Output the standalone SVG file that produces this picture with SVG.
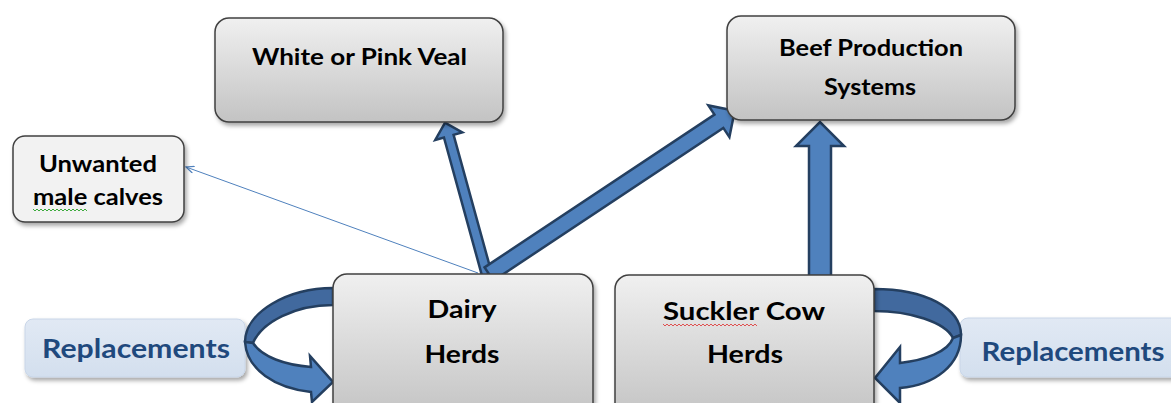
<svg xmlns="http://www.w3.org/2000/svg" width="1171" height="403" viewBox="0 0 1171 403">
<defs>
<linearGradient id="gBox" x1="0" y1="0" x2="0" y2="1">
<stop offset="0" stop-color="#f0f0f0"/>
<stop offset="1" stop-color="#c3c3c3"/>
</linearGradient>
<linearGradient id="gRep" x1="0" y1="0" x2="0" y2="1">
<stop offset="0" stop-color="#e1e9f4"/>
<stop offset="1" stop-color="#d3dfee"/>
</linearGradient>
<filter id="sh" x="-10%" y="-10%" width="130%" height="140%">
<feDropShadow dx="2" dy="3" stdDeviation="2" flood-color="#000" flood-opacity="0.35"/>
</filter>
<marker id="thinHead" markerWidth="10" markerHeight="8" refX="9" refY="4" orient="auto" markerUnits="userSpaceOnUse">
<path d="M1,0.5 L9,4 L1,7.5" fill="none" stroke="#4f81bd" stroke-width="1.2"/>
</marker>
</defs>
<style>
.box{fill:url(#gBox);stroke:#404040;stroke-width:1.5;filter:url(#sh)}
.plain{fill:#f2f2f2;stroke:#404040;stroke-width:1.5;filter:url(#sh)}
.rep{fill:url(#gRep);stroke:#c9d6e8;stroke-width:1;filter:url(#sh)}
.t{font-family:Lato,"Liberation Sans",sans-serif;font-weight:bold;fill:#000;text-anchor:middle}
.rt{font-family:Lato,"Liberation Sans",sans-serif;font-weight:bold;fill:#1f497d;text-anchor:middle;font-size:27px}
.arr{fill:#4f81bd;stroke:#243f60;stroke-width:2.5;stroke-linejoin:miter}
.arrD{fill:#41699e;stroke:#243f60;stroke-width:2.5;stroke-linejoin:round}
.thin{stroke:#4f81bd;stroke-width:1;fill:none}
.wg{fill:none;stroke:#3caa3c;stroke-width:1}
.wr{fill:none;stroke:#e05050;stroke-width:1}
</style>

<g id="replacements-left">
<rect class="rep" x="25" y="319" width="220" height="58" rx="8"/>
<text class="rt" x="136" y="358" textLength="188" lengthAdjust="spacingAndGlyphs">Replacements</text>
</g>
<g id="replacements-right">
<rect class="rep" x="960" y="318" width="230" height="59" rx="8"/>
<text class="rt" x="1073" y="361" textLength="183" lengthAdjust="spacingAndGlyphs">Replacements</text>
</g>

<g id="connectors">
<line class="thin" x1="478" y1="273" x2="186" y2="167" marker-end="url(#thinHead)"/>
<path class="arr" transform="translate(487,275) rotate(-15.4)" d="M-5,0 L-5,-144 L-14,-144 L0,-158 L14,-144 L5,-144 L5,0 Z"/>
<path class="arr" transform="translate(489,274) rotate(56.4)" d="M-8,0 L-8,-276 L-19,-276 L0,-295 L19,-276 L8,-276 L8,0 Z"/>
<path class="arr" d="M809,276 L809,146 L796,146 L820,122 L844,146 L831,146 L831,276 Z"/>
<path class="arrD" d="M333,288 C288,288 245,312 245,342 L253,343 C262,322 295,305 333,305 Z"/>
<path class="arr" d="M245,342 C247,370 275,388 311,392 L312,402 L333,382 L310,356 L311,367 C285,365 262,357 253,343 Z"/>
<path class="arrD" d="M874,289 C925,289 961,308 961,335 L953,338 C945,322 910,311 874,311 Z"/>
<path class="arr" d="M961,335 C961,365 935,385 900,388 L900,403 L875,378 L900,347 L900,363 C925,360 948,352 953,338 Z"/>
</g>

<g id="veal">
<rect class="box" x="215" y="18" width="288" height="104" rx="14"/>
<text class="t" x="359.5" y="65" font-size="23.5" textLength="215" lengthAdjust="spacingAndGlyphs">White or Pink Veal</text>
</g>
<g id="beef">
<rect class="box" x="727" y="16" width="288" height="104" rx="14"/>
<text class="t" x="871" y="56" font-size="22" textLength="184" lengthAdjust="spacingAndGlyphs">Beef Production</text>
<text class="t" x="870" y="95" font-size="22" textLength="92" lengthAdjust="spacingAndGlyphs">Systems</text>
</g>
<g id="unwanted">
<rect class="plain" x="13" y="136" width="171" height="86" rx="12"/>
<text class="t" x="98" y="172" font-size="23" textLength="118" lengthAdjust="spacingAndGlyphs">Unwanted</text>
<text class="t" x="98" y="205" font-size="23" textLength="130" lengthAdjust="spacingAndGlyphs">male calves</text>
<path class="wg" d="M33,209 l2,2 l2,-2 l2,2 l2,-2 l2,2 l2,-2 l2,2 l2,-2 l2,2 l2,-2 l2,2 l2,-2 l2,2 l2,-2 l2,2 l2,-2 l2,2 l2,-2 l2,2 l2,-2 l2,2 l2,-2 l2,2 l2,-2 l2,2 l2,-2 l2,2"/>
</g>
<g id="dairy">
<rect class="box" x="333" y="274" width="260" height="145" rx="14"/>
<text class="t" x="462" y="318" font-size="25" textLength="69" lengthAdjust="spacingAndGlyphs">Dairy</text>
<text class="t" x="462" y="363" font-size="25" textLength="75" lengthAdjust="spacingAndGlyphs">Herds</text>
</g>
<g id="suckler">
<rect class="box" x="615" y="275" width="259" height="145" rx="14"/>
<text class="t" x="744" y="320" font-size="25" textLength="162" lengthAdjust="spacingAndGlyphs">Suckler Cow</text>
<text class="t" x="745" y="363" font-size="25" textLength="76" lengthAdjust="spacingAndGlyphs">Herds</text>
<path class="wr" d="M663,324 l2,2 l2,-2 l2,2 l2,-2 l2,2 l2,-2 l2,2 l2,-2 l2,2 l2,-2 l2,2 l2,-2 l2,2 l2,-2 l2,2 l2,-2 l2,2 l2,-2 l2,2 l2,-2 l2,2 l2,-2 l2,2 l2,-2 l2,2 l2,-2 l2,2 l2,-2 l2,2 l2,-2 l2,2 l2,-2 l2,2 l2,-2 l2,2 l2,-2 l2,2 l2,-2 l2,2 l2,-2 l2,2 l2,-2 l2,2 l2,-2 l2,2 l2,-2 l2,2"/>
</g>
</svg>
